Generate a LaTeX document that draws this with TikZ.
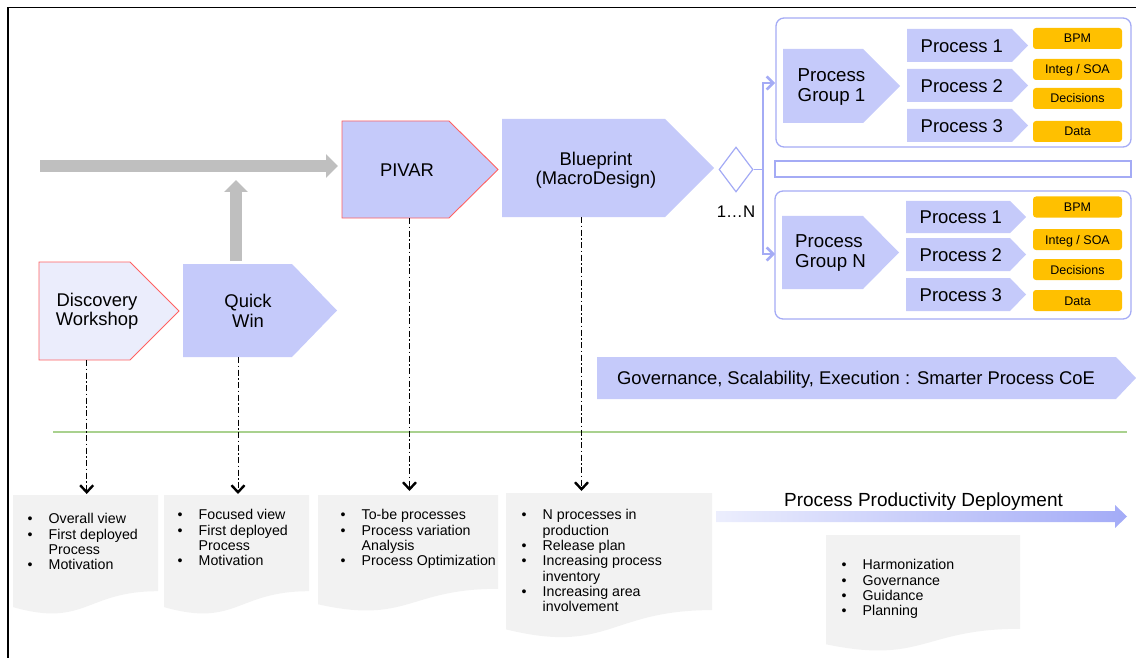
\documentclass[tikz,border=0pt]{standalone}
\usepackage{fontspec}
\setmainfont{Liberation Sans}
\usetikzlibrary{arrows.meta,shapes.geometric}
\definecolor{stageblue}{HTML}{C5CAFA}
\definecolor{stagepale}{HTML}{EBEDFC}
\definecolor{stagered}{HTML}{FF6161}
\definecolor{groupline}{HTML}{A4ABF5}
\definecolor{tagorange}{HTML}{FFC000}
\definecolor{arrowgray}{HTML}{BFBFBF}
\definecolor{notegray}{HTML}{F2F2F2}
\definecolor{rulegreen}{HTML}{A9D18E}
\definecolor{flowstart}{HTML}{ECEEFD}
\definecolor{flowend}{HTML}{A3ABF7}
\tikzset{
	stage/.style={fill=stageblue},
	pale/.style={fill=stagepale},
	redline/.style={draw=stagered, line width=0.9pt},
	stagetext/.style={
		align=center,
		inner sep=0pt,
		font=\fontsize{18.4}{19.5}\selectfont},
	grouptext/.style={
		anchor=west,
		align=left,
		inner sep=0pt,
		font=\fontsize{18.7}{19.5}\selectfont},
	proctext/.style={
		anchor=west,
		inner sep=0pt,
		text height=13.3pt, text depth=0pt,
		font=\fontsize{18.5}{20}\selectfont},
	tag/.style={
		fill=tagorange,
		rounded corners=3pt,
		minimum width=89pt,
		minimum height=21pt,
		inner sep=0pt,
		text height=9pt, text depth=0pt,
		font=\fontsize{12.5}{14}\selectfont},
	note/.style={fill=notegray},
	notetext/.style={
		anchor=north west,
		inner sep=0pt,
		font=\fontsize{14.2}{15.3}\selectfont},
	bigarrow/.style={draw=arrowgray, line width=12pt, -{Triangle[width=23pt,length=12pt]}},
	trace/.style={line width=1pt, dash pattern=on 6pt off 2.5pt on 1.5pt off 2.5pt,
		-{Straight Barb[length=7pt,width=13pt,line width=2.4pt]}},
	groupbox/.style={draw=groupline, line width=1.3pt, rounded corners=8pt},
	fork/.style={draw=groupline, line width=1.3pt,
		-{Straight Barb[length=6.5pt,width=13pt,line width=2.6pt]}},
}

\begin{document}
\begin{tikzpicture}[x=1pt,y=-1pt]
\useasboundingbox (0,0) rectangle (1136,658);
% frame
\draw[line width=1.5pt] (8,658) -- (8,7.3) -- (1136,7.3);

% gray flow
\coordinate (flow-start) at (40,166);
\coordinate (pivar-in) at (338,166);
\coordinate (quick-up) at (236,261);
\coordinate (flow-join) at (236,180);
\draw[bigarrow] (flow-start) -- (pivar-in);
\draw[bigarrow] (quick-up) -- (flow-join);

% stages
\path[pale, redline] (39,262) -- (130,262) -- (179,311) -- (130,360) -- (39,360) -- cycle;
\node[stagetext] (disc) at (97,311) {Discovery\\Workshop};
\path[stage] (183,264) -- (292,264) -- (337,310.5) -- (292,357) -- (183,357) -- cycle;
\node[stagetext] (quick) at (248,311) {Quick\\Win};
\path[stage, redline] (342,121) -- (449,121) -- (498,169.5) -- (449,218) -- (342,218) -- cycle;
\node[stagetext] (pivar) at (407,170) {PIVAR};
\path[stage] (502,119) -- (665,119) -- (714,168) -- (665,217) -- (502,217) -- cycle;
\node[stagetext] (blue) at (596,170) {Blueprint\\(MacroDesign)};

% choice and groups
\node[diamond, draw=groupline, line width=1.2pt, fill=white,
	minimum width=34pt, minimum height=45pt, inner sep=0pt] (choice) at (736,169.5) {};
\node[font=\fontsize{16.8}{18}\selectfont, inner sep=0pt] (card) at (736,212) {1…N};
\draw[groupbox] (776,18) rectangle (1131,147);
\draw[draw=groupline, line width=1.3pt] (775,161) rectangle (1131,177);
\draw[groupbox] (775,191) rectangle (1131,319);
\coordinate (split) at (763,169.5);
\coordinate (grp1-in) at (775,83);
\coordinate (grpN-in) at (775,254);
\draw[fork] (choice.east) -- (split) |- (grp1-in);
\draw[fork] (split) |- (grpN-in);

% group 1
\path[stage] (783,49) -- (863,49) -- (900,86) -- (863,123) -- (783,123) -- cycle;
\node[grouptext] (grp1) at (797.5,87) {Process\\Group 1};
\path[stage] (907,29) -- (1012,29) -- (1028,45.5) -- (1012,62) -- (907,62) -- cycle;
\node[proctext] (g1-p1) at (920.5,45.5) {Process 1};
\path[stage] (907,69) -- (1012,69) -- (1028,85.5) -- (1012,102) -- (907,102) -- cycle;
\node[proctext] (g1-p2) at (920.5,85.5) {Process 2};
\path[stage] (907,109) -- (1012,109) -- (1028,125.5) -- (1012,142) -- (907,142) -- cycle;
\node[proctext] (g1-p3) at (920.5,125.5) {Process 3};
\node[tag] (g1-bpm) at (1077.5,38.5) {BPM};
\node[tag] (g1-soa) at (1077.5,69.5) {Integ / SOA};
\node[tag] (g1-dec) at (1077.5,98.5) {Decisions};
\node[tag] (g1-data) at (1077.5,131.5) {Data};

% group N
\path[stage] (782,216) -- (863,216) -- (899,252.5) -- (863,289) -- (782,289) -- cycle;
\node[grouptext] (grpN) at (795,253) {Process\\Group N};
\path[stage] (906,201) -- (1010,201) -- (1026,217) -- (1010,233) -- (906,233) -- cycle;
\node[proctext] (gN-p1) at (919.5,217) {Process 1};
\path[stage] (906,238) -- (1010,238) -- (1026,254.5) -- (1010,271) -- (906,271) -- cycle;
\node[proctext] (gN-p2) at (919.5,254.5) {Process 2};
\path[stage] (906,278) -- (1010,278) -- (1026,294.5) -- (1010,311) -- (906,311) -- cycle;
\node[proctext] (gN-p3) at (919.5,294.5) {Process 3};
\node[tag] (gN-bpm) at (1077.5,207) {BPM};
\node[tag] (gN-soa) at (1077.5,239.5) {Integ / SOA};
\node[tag] (gN-dec) at (1077.5,269.5) {Decisions};
\node[tag] (gN-data) at (1077.5,300.5) {Data};

% CoE band
\path[stage] (597,357) -- (1116,357) -- (1136,378) -- (1116,399) -- (597,399) -- cycle;
\node[stagetext, text height=13.2pt, text depth=0pt] (coe) at (856,378)
	{Governance, Scalability, Execution : Smarter Process CoE};

\draw[rulegreen, line width=1.5pt] (53,432) -- (1127,432);

% deliverables
\path[note] (13,495) -- (158,495) -- (158,591.2) .. controls (85.5,591.2) and (85.5,627.8) .. (13,607.1) -- cycle;
\node[notetext] (disc-list) at (27.5,513) {\begin{tabular}{@{}p{21pt}@{}l@{}}
	\textbullet & Overall view\\
	\textbullet & First deployed\\
	& Process\\
	\textbullet & Motivation
\end{tabular}};
\path[note] (164,495) -- (309,495) -- (309,591.2) .. controls (236.5,591.2) and (236.5,627.8) .. (164,607.1) -- cycle;
\node[notetext] (quick-list) at (177.5,509) {\begin{tabular}{@{}p{21pt}@{}l@{}}
	\textbullet & Focused view\\
	\textbullet & First deployed\\
	& Process\\
	\textbullet & Motivation
\end{tabular}};
\path[note] (318,495) -- (498,495) -- (498,588.8) .. controls (408,588.8) and (408,624.5) .. (318,604.3) -- cycle;
\node[notetext] (pivar-list) at (340.5,509) {\begin{tabular}{@{}p{21pt}@{}l@{}}
	\textbullet & To-be processes\\
	\textbullet & Process variation\\
	& Analysis\\
	\textbullet & Process Optimization
\end{tabular}};
\path[note] (506,493) -- (712,493) -- (712,610.1) .. controls (609,610.1) and (609,654.6) .. (506,629.4) -- cycle;
\node[notetext] (blue-list) at (521.5,509) {\begin{tabular}{@{}p{21pt}@{}l@{}}
	\textbullet & N processes in\\
	& production\\
	\textbullet & Release plan\\
	\textbullet & Increasing process\\
	& inventory\\
	\textbullet & Increasing area\\
	& involvement
\end{tabular}};
\path[note] (826,535) -- (1020,535) -- (1020,628.8) .. controls (923,628.8) and (923,664.5) .. (826,644.3) -- cycle;
\node[notetext] (coe-list) at (841.5,559) {\begin{tabular}{@{}p{21pt}@{}l@{}}
	\textbullet & Harmonization\\
	\textbullet & Governance\\
	\textbullet & Guidance\\
	\textbullet & Planning
\end{tabular}};

% deployment arrow
\path[left color=flowstart, right color=flowend] (716,511) -- (1115,511) -- (1115,505)
	-- (1127,516.5) -- (1115,528) -- (1115,522) -- (716,522) -- cycle;
\node[inner sep=0pt, text height=13.6pt, text depth=0pt, font=\fontsize{19}{21}\selectfont]
	(deploy) at (923.5,499.5) {Process Productivity Deployment};

% traces
\coordinate (disc-out) at (86.7,360);
\coordinate (disc-in) at (86.7,494);
\coordinate (quick-out) at (238,357);
\coordinate (quick-in) at (238,494);
\coordinate (pivar-out) at (409.5,218);
\coordinate (pivar-in2) at (409.5,491);
\coordinate (blue-out) at (581.5,217);
\coordinate (blue-in) at (581.5,491);
\draw[trace] (disc-out) -- (disc-in);
\draw[trace] (quick-out) -- (quick-in);
\draw[trace] (pivar-out) -- (pivar-in2);
\draw[trace] (blue-out) -- (blue-in);
\end{tikzpicture}
\end{document}
